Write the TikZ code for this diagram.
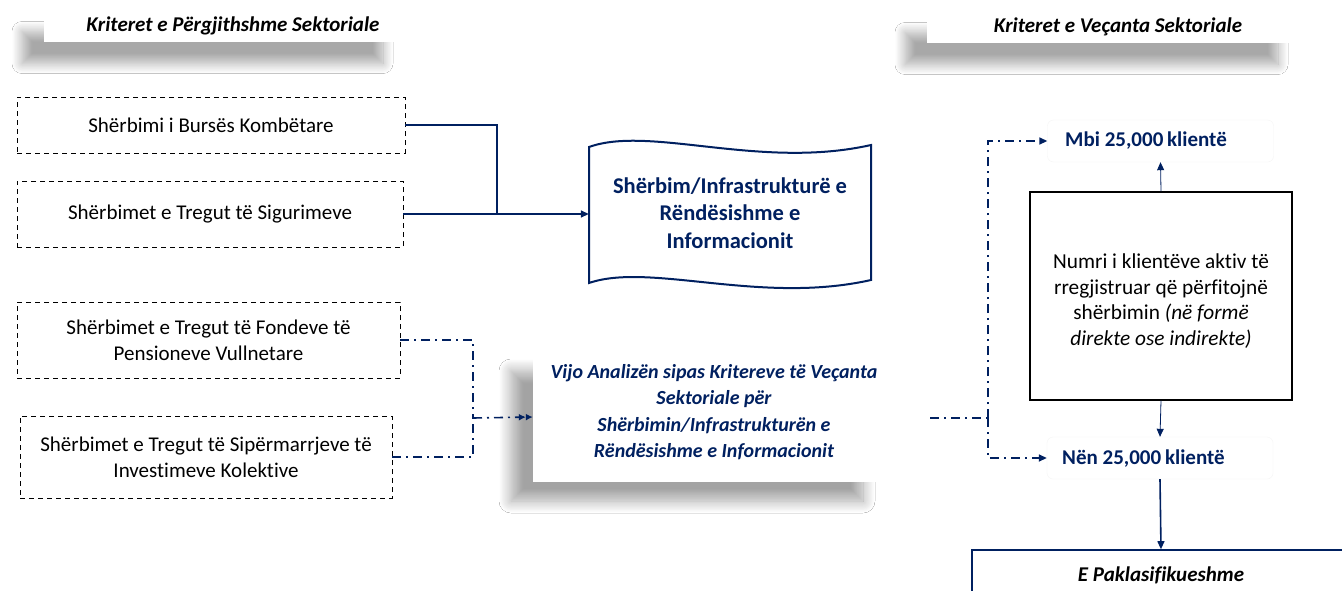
\documentclass[tikz,border=0pt]{standalone}
\usepackage{fontspec}
\setmainfont{Carlito}[Ligatures={NoCommon}]
\usetikzlibrary{arrows.meta,shadows.blur}
\definecolor{navy}{RGB}{0,32,96}
\begin{document}
\begin{tikzpicture}[x=1pt,y=-1pt,
  fs/.style={font=\fontsize{21}{26}\selectfont},
  titlebox/.style={fill=white,draw=none,minimum height=32pt,
    font=\fontsize{21}{26}\selectfont\bfseries\itshape,
    blur shadow={shadow xshift=-22pt,shadow yshift=-22pt,shadow blur radius=10pt,shadow blur steps=16,shadow opacity=34}},
  dbox/.style={draw=black,dashed,thick,dash pattern=on 5pt off 4pt,align=center,fs},
  navyline/.style={draw=navy,line width=1.6pt},
  dashdot/.style={draw=navy,line width=1.6pt,dash pattern=on 9pt off 5pt on 2pt off 5pt},
  tip/.style={-{Triangle[length=8pt,width=7pt]}},
  clbox/.style={draw=gray!8,rounded corners=6pt,minimum height=42pt,minimum width=226pt},
  cltext/.style={anchor=west,inner sep=0pt,font=\fontsize{21}{26}\selectfont\bfseries,text=navy}]
\useasboundingbox (0,0) rectangle (1342,590);
\fill[white] (0,0) rectangle (1342,590);

% titles
\node[titlebox,minimum width=361pt] (t1) at (224.5,25.5) {\hspace*{17pt}Kriteret e Përgjithshme Sektoriale};
\node[titlebox,minimum width=373pt] (t2) at (1113.5,26.5) {\hspace*{9pt}Kriteret e Veçanta Sektoriale};

% dashed boxes
\node[dbox,minimum width=388pt,minimum height=56pt] (b1) at (211,125) {Shërbimi i Bursës Kombëtare};
\node[dbox,minimum width=386pt,minimum height=66pt] (b2) at (210,214) {Shërbimet e Tregut të Sigurimeve};
\node[dbox,minimum width=383pt,minimum height=76pt] (b3) at (208.5,340) {Shërbimet e Tregut të Fondeve të\\Pensioneve Vullnetare};
\node[dbox,minimum width=372pt,minimum height=82pt] (b4) at (206,457) {Shërbimet e Tregut të Sipërmarrjeve të\\Investimeve Kolektive};

% wavy document shape
\node[minimum width=282pt,minimum height=150pt,inner sep=0pt] (doc) at (730,214) {};
\draw[navyline,line width=2pt,fill=white] (589,147) .. controls (650,125) and (760,170) .. (871,145)
  -- (871,280) .. controls (760,305) and (650,262) .. (589,283) -- cycle;
\node[align=center,font=\fontsize{22.5}{27.5}\selectfont\bfseries,text=navy] (doct) at (730,213)
  {Shërbim/Infrastrukturë e\\Rëndësishme e\\Informacionit};

\coordinate (j1) at (497,214);
\draw[navyline] (b1.east) -| (j1);
\draw[navyline] (b2.east) -- (j1);
\draw[navyline,tip] (j1) -- (doc.west);

% middle shadowed box
\node[fill=white,minimum width=352pt,minimum height=130pt,
  blur shadow={shadow xshift=-22pt,shadow yshift=-19pt,shadow blur radius=12pt,shadow blur steps=16,shadow opacity=36}]
  (mid) at (709,417) {};
\node[align=center,font=\fontsize{20}{26.5}\selectfont\bfseries\itshape,text=navy] (midt) at (714,412)
  {Vijo Analizën sipas Kritereve të Veçanta\\Sektoriale për\\Shërbimin/Infrastrukturën e\\Rëndësishme e Informacionit};

\coordinate (j2) at (473,418);
\draw[dashdot] (b3.east) -| (j2);
\draw[dashdot] (b4.east) -| (j2);
\draw[dashdot,-{Latex[length=7pt,width=7pt]Latex[length=7pt,width=7pt]}] (j2) -- (mid.west);

% right part
\node[clbox] (mbi) at (1160.5,141) {};
\node[cltext] (mbit) at (1065,141) {Mbi 25,000\kern-1pt\ klientë};
\node[clbox] (nen) at (1160,458) {};
\node[cltext] (nent) at (1062,459) {Nën 25,000\kern-1pt\ klientë};
\node[draw=black,line width=1.2pt,minimum width=262pt,minimum height=208pt] (num) at (1161,296) {};
\node[align=center,font=\fontsize{21.3}{25.7}\selectfont] (numt) at (1161,301)
  {Numri i klientëve aktiv të\\rregjistruar që përfitojnë\\shërbimin \textit{(në formë}\\\textit{direkte ose indirekte)}};

\coordinate (j3) at (930,418);
\coordinate (j4) at (988,418);
\draw[dashdot] (j3) -- (j4);
\draw[dashdot,tip] (j4) |- (mbi.west);
\draw[dashdot,tip] (j4) |- (nen.west);

\draw[draw=navy,line width=0.8pt,tip] (num.north) -- (mbi.south);
\draw[draw=navy,line width=0.8pt,tip] (num.south) -- (nen.north);

\node[draw=navy,line width=1.6pt,minimum width=378pt,minimum height=52pt,
  font=\fontsize{21}{26}\selectfont\bfseries\itshape] (pak) at (1161,576) {\raisebox{4pt}{E Paklasifikueshme}};
\draw[navyline,tip] (nen.south) -- (pak.north);
\end{tikzpicture}
\end{document}
